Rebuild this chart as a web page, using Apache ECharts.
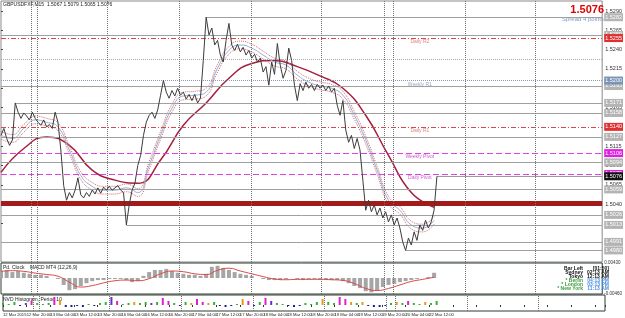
<!DOCTYPE html>
<html>
<head>
<meta charset="utf-8">
<script src="https://cdn.jsdelivr.net/npm/echarts@6/dist/echarts.min.js"></script>
<style>
  html, body { margin: 0; padding: 0; background: #fff; }
  #main { width: 625px; height: 318px; }
</style>
</head>
<body>
<div id="main"></div>
<script>
// price line, one value per hour
const close = [
  1.5129, 1.5138, 1.5125, 1.5116, 1.5123, 1.5171, 1.5159, 1.5151, 1.5158, 1.5154,
  1.5149, 1.5159, 1.5151, 1.5146, 1.5142, 1.5149, 1.5140, 1.5143, 1.5138, 1.5159,
  1.5146, 1.5110, 1.5064, 1.5045, 1.5055, 1.5048, 1.5058, 1.5074, 1.5052, 1.5048,
  1.5055, 1.5050, 1.5058, 1.5053, 1.5061, 1.5054, 1.5062, 1.5058, 1.5063, 1.5058,
  1.5061, 1.5064, 1.5058, 1.5055, 1.5013, 1.5039, 1.5058, 1.5067, 1.5090, 1.5103,
  1.5129, 1.5146, 1.5155, 1.5159, 1.5151, 1.5162, 1.5181, 1.5200, 1.5185, 1.5177,
  1.5187, 1.5180, 1.5190, 1.5181, 1.5185, 1.5176, 1.5182, 1.5174, 1.5182, 1.5171,
  1.5177, 1.5226, 1.5282, 1.5259, 1.5268, 1.5246, 1.5252, 1.5233, 1.5224, 1.5252,
  1.5274, 1.5246, 1.5239, 1.5247, 1.5237, 1.5243, 1.5233, 1.5239, 1.5229, 1.5234,
  1.5224, 1.5229, 1.5211, 1.5218, 1.5194, 1.5224, 1.5208, 1.5248, 1.5220, 1.5203,
  1.5213, 1.5242, 1.5226, 1.5194, 1.5174, 1.5196, 1.5187, 1.5198, 1.5190, 1.5195,
  1.5187, 1.5195, 1.5190, 1.5194, 1.5187, 1.5193, 1.5185, 1.5190, 1.5168, 1.5155,
  1.5174, 1.5136, 1.5120, 1.5129, 1.5112, 1.5125, 1.5110, 1.5071, 1.5032, 1.5045,
  1.5030, 1.5039, 1.5026, 1.5035, 1.5022, 1.5030, 1.5017, 1.5026, 1.5013, 1.5022,
  1.5009, 1.4991, 1.4980, 1.4996, 1.4987, 1.5004, 1.4993, 1.5013, 1.5006, 1.5019,
  1.5009, 1.5017, 1.5032, 1.5076
];

// moving averages (every 4th hour) and slow average (every 8th hour)
const MA_STEP = 4;
const maMid = [
  1.5129, 1.5125, 1.5138, 1.5149, 1.5146, 1.5140, 1.5110, 1.5077, 1.5063, 1.5058,
  1.5058, 1.5061, 1.5055, 1.5090, 1.5129, 1.5164, 1.5180, 1.5181, 1.5185, 1.5216,
  1.5239, 1.5246, 1.5242, 1.5233, 1.5224, 1.5220, 1.5207, 1.5198, 1.5193, 1.5190,
  1.5181, 1.5155, 1.5123, 1.5084, 1.5045, 1.5032, 1.5013, 1.5009, 1.5019
];
const maUpper = [
  1.5134, 1.5130, 1.5143, 1.5154, 1.5151, 1.5145, 1.5115, 1.5082, 1.5068, 1.5063,
  1.5063, 1.5066, 1.5060, 1.5095, 1.5134, 1.5169, 1.5185, 1.5186, 1.5190, 1.5221,
  1.5244, 1.5251, 1.5247, 1.5238, 1.5229, 1.5225, 1.5212, 1.5203, 1.5198, 1.5195,
  1.5186, 1.5160, 1.5128, 1.5089, 1.5050, 1.5037, 1.5018, 1.5014, 1.5024
];
const maLower = [
  1.5124, 1.5120, 1.5133, 1.5144, 1.5141, 1.5135, 1.5105, 1.5072, 1.5058, 1.5053,
  1.5053, 1.5056, 1.5050, 1.5085, 1.5124, 1.5159, 1.5175, 1.5176, 1.5180, 1.5211,
  1.5234, 1.5241, 1.5237, 1.5228, 1.5219, 1.5215, 1.5202, 1.5193, 1.5188, 1.5185,
  1.5176, 1.5150, 1.5118, 1.5079, 1.5040, 1.5027, 1.5008, 1.5004, 1.5014
];
const SLOW_STEP = 8;
const maSlow = [
  1.5081, 1.5112, 1.5127, 1.5116, 1.5084, 1.5071, 1.5067, 1.5097, 1.5142, 1.5171,
  1.5203, 1.5222, 1.5226, 1.5218, 1.5206, 1.5190, 1.5155, 1.5103, 1.5055, 1.5036
];

// levels
const greyLevels = [1.5259, 1.5193, 1.5158, 1.5127, 1.5094, 1.5059, 1.5026, 1.4991];
const dottedLevels = [1.5228];
const swingIdx = [5, 72, 44, 142];
const pivotNames = ['Daily R2', 'Weekly R1', 'Daily R1', 'Weekly Pivot', 'Daily Pivot'];
const pivotLevels = [1.5255, 1.5200, 1.5140, 1.5106, 1.5079];
const zoneLevel = 1.5041;
const sepIdx = [10.5, 12.6, 37.4, 62.5, 87.7, 112.5, 134.5, 137.6, 162.8, 187.6];

// MACD panel (every 2nd hour) and signal (every 4th hour)
const MACD_STEP = 2;
const macd = [
  0.0020, 0.0023, 0.0017, 0.0020, 0.0015, 0.0012, 0.0009, 0.0009, 0.0006, 0.0000,
  -0.0003, -0.0020, -0.0035, -0.0032, -0.0023, -0.0015, -0.0009, -0.0006, -0.0006, -0.0003,
  -0.0003, -0.0003, -0.0006, -0.0012, -0.0009, 0.0006, 0.0017, 0.0023, 0.0023, 0.0026,
  0.0020, 0.0015, 0.0012, 0.0009, 0.0009, 0.0006, 0.0012, 0.0032, 0.0035, 0.0029,
  0.0023, 0.0017, 0.0012, 0.0009, 0.0006, 0.0000, -0.0003, -0.0006, -0.0006, -0.0006,
  -0.0003, 0.0000, -0.0003, -0.0006, -0.0003, -0.0003, -0.0003, -0.0006, -0.0006, -0.0006,
  -0.0009, -0.0015, -0.0023, -0.0029, -0.0038, -0.0041, -0.0035, -0.0026, -0.0020, -0.0017,
  -0.0012, -0.0009, -0.0006, -0.0003, 0.0000, 0.0003, 0.0015
];
const SIGNAL_STEP = 4;
const signal = [
  0.0019, 0.0021, 0.0019, 0.0014, 0.0010, 0.0005, -0.0012, -0.0026, -0.0022, -0.0014,
  -0.0008, -0.0006, -0.0008, -0.0002, 0.0012, 0.0020, 0.0018, 0.0012, 0.0010, 0.0022,
  0.0028, 0.0020, 0.0012, 0.0004, -0.0003, -0.0005, -0.0004, -0.0004, -0.0004, -0.0005,
  -0.0007, -0.0016, -0.0030, -0.0036, -0.0030, -0.0020, -0.0010, -0.0004, 0.0002
];

// histogram panel (every 2nd hour), kind picks the colour
const HIST_STEP = 2;
const histVal = [
  2, 1, 3, -1, 2, 4, 2, 1, 2, 8, 5, -2, -2, -1, -2, 1, -1, 2, 3, 8,
  4, 1, 2, 3, 2, 3, 2, 3, 7, 4, 2, -1, 3, 2, 6, 3, 2, 3, -1, -2,
  -1, 1, 6, 4, -1, 3, 7, 4, 2, 1, -1, -2, -1, 2, 1, 3, 6, 3, 2, 8,
  6, 3, 2, 3, -1, -2, -2, -1, 2, 3, 2, 4, 2, 1, 3, 2, 4
];
const histKind = [
  0, 0, 0, 4, 2, 1, 0, 0, 0, 1, 3, 4, 4, 4, 4, 0, 4, 0, 0, 2,
  1, 0, 0, 3, 0, 0, 2, 0, 1, 1, 0, 4, 0, 3, 1, 1, 3, 0, 4, 4,
  4, 0, 3, 1, 4, 0, 1, 2, 0, 0, 4, 4, 4, 0, 0, 0, 3, 0, 0, 1,
  1, 3, 0, 3, 4, 4, 4, 4, 0, 3, 0, 1, 0, 0, 3, 0, 0
];

const timeLabels = [
  '12 Mar 2015', '12 Mar 20:00', '13 Mar 04:00', '13 Mar 12:00', '13 Mar 20:00',
  '16 Mar 04:00', '16 Mar 12:00', '16 Mar 20:00', '17 Mar 04:00', '17 Mar 12:00',
  '17 Mar 20:00', '18 Mar 04:00', '18 Mar 12:00', '18 Mar 20:00', '19 Mar 04:00',
  '19 Mar 12:00', '19 Mar 20:00', '20 Mar 04:00', '22 Mar 12:00'
];
const LABEL_STEP = 8.3;
const X_MAX = 211;

const clockNames = ['Bar Left', 'Sydney', 'Tokyo', '* Berlin', '* London', '* New York'];
const clockTimes = ['[01:50]', '02:13 AM', '12:13 AM', '04:13 PM', '03:13 PM', '11:13 AM'];

const FONT = 'Liberation Sans, Arial, sans-serif';
const histColors = ['#33b233', '#e020c8', '#6a2fd0', '#e89a1a', '#1c1c9a'];
const pivotStyle = [
  { color: '#d84848', type: [5, 2, 1, 2], box: '#e03030', text: '#d86060' },
  { color: '#8a9ab4', type: 'dotted', box: '#7b93b5', text: '#8090a8' },
  { color: '#d84848', type: [5, 2, 1, 2], box: '#e03030', text: '#d86060' },
  { color: '#e040e0', type: [6, 3], box: '#e020e0', text: '#c030c0' },
  { color: '#e040e0', type: [6, 3], box: '#e020e0', text: '#c030c0' }
];

// right-side price box for a level line
const boxLabel = (v, bg) => ({
  show: true, position: 'end', distance: 2,
  formatter: v.toFixed(4),
  backgroundColor: bg, color: '#fff',
  fontSize: 5.5, fontFamily: FONT, padding: [1, 1]
});

const levelLines = [];
greyLevels.forEach(v => levelLines.push({
  yAxis: v, lineStyle: { color: '#a0a0a0', type: 'solid', width: 1 }, label: boxLabel(v, '#b4b4b4')
}));
dottedLevels.forEach(v => levelLines.push({
  yAxis: v, lineStyle: { color: '#aaaaaa', type: 'dotted', width: 1 }, label: { show: false }
}));
pivotLevels.forEach((v, i) => levelLines.push({
  yAxis: v, lineStyle: { color: pivotStyle[i].color, type: pivotStyle[i].type, width: 1 },
  label: boxLabel(v, pivotStyle[i].box)
}));
levelLines.push({
  yAxis: zoneLevel, lineStyle: { color: '#a31a1a', type: 'solid', width: 5 }, label: { show: false }
});
swingIdx.forEach(i => levelLines.push([
  { coord: [i, close[i]], lineStyle: { color: '#a0a0a0', type: 'solid', width: 1 }, label: boxLabel(close[i], '#b4b4b4') },
  { coord: [X_MAX, close[i]] }
]));
const last = close.length - 1;
levelLines.push([
  { coord: [last, close[last]], lineStyle: { color: '#9a9a9a', type: 'solid', width: 1 }, label: boxLabel(close[last], '#111') },
  { coord: [X_MAX, close[last]] }
]);

const sepLines = sepIdx.map(x => ({
  xAxis: x, lineStyle: { color: '#707070', type: 'dotted', width: 1 }, label: { show: false }
}));

const plainX = gi => ({
  type: 'value', gridIndex: gi, min: 0, max: X_MAX,
  axisLine: { show: false }, axisTick: { show: false },
  axisLabel: { show: false }, splitLine: { show: false }
});

const chartDom = document.getElementById('main');
const myChart = echarts.init(chartDom);

const option = {
  animation: false,
  backgroundColor: '#ffffff',
  textStyle: { fontFamily: FONT },
  grid: [
    { left: 1, right: 20, top: 1, height: 261, show: true, borderColor: '#8a8a8a', borderWidth: 1, backgroundColor: '#fff' },
    { left: 1, right: 20, top: 263, height: 31, show: true, borderColor: '#2e3a2e', borderWidth: 1 },
    { left: 1, right: 20, top: 295, height: 16, show: true, borderColor: '#2e3a2e', borderWidth: 1 }
  ],
  xAxis: [
    plainX(0),
    plainX(1),
    {
      type: 'value', gridIndex: 2, min: 0, max: X_MAX, interval: LABEL_STEP,
      axisLine: { show: false },
      axisTick: { show: true, length: 2, lineStyle: { color: '#333' } },
      splitLine: { show: false },
      axisLabel: {
        fontSize: 4.2, color: '#222', margin: 2, align: 'left',
        showMinLabel: true, showMaxLabel: true, hideOverlap: false,
        formatter: v => {
          const k = Math.round(v / LABEL_STEP);
          return Math.abs(v - k * LABEL_STEP) < 0.01 ? (timeLabels[k] || '') : '';
        }
      }
    }
  ],
  yAxis: [
    {
      type: 'value', gridIndex: 0, position: 'right', min: 1.4965, max: 1.5303, interval: 0.0025,
      axisLine: { show: false }, splitLine: { show: false },
      axisTick: { show: true, length: 2, lineStyle: { color: '#444' } },
      axisLabel: { fontSize: 5.5, color: '#333', margin: 3, showMinLabel: false, showMaxLabel: false,
        formatter: v => v.toFixed(4) }
    },
    {
      type: 'value', gridIndex: 1, position: 'right', min: -0.0046, max: 0.0043, interval: 0.0089,
      axisLine: { show: false }, splitLine: { show: false }, axisTick: { show: false },
      axisLabel: { fontSize: 4.5, color: '#333', margin: 2, formatter: v => v.toFixed(5) }
    },
    {
      type: 'value', gridIndex: 2, position: 'right', min: -6, max: 10, interval: 16,
      axisLine: { show: false }, splitLine: { show: false }, axisTick: { show: false },
      axisLabel: { show: false }
    }
  ],
  series: [
    {
      type: 'line', xAxisIndex: 0, yAxisIndex: 0, z: 5,
      data: close.map((v, i) => [i, v]),
      symbol: 'none', lineStyle: { color: '#3c3c3c', width: 1 },
      markLine: { silent: true, symbol: ['none', 'none'], precision: 4, data: levelLines.concat(sepLines) }
    },
    {
      type: 'line', xAxisIndex: 0, yAxisIndex: 0, z: 4,
      data: maSlow.map((v, k) => [k * SLOW_STEP, v]),
      symbol: 'none', smooth: true, lineStyle: { color: '#a61e3e', width: 1.5 }
    },
    {
      type: 'line', xAxisIndex: 0, yAxisIndex: 0, z: 4,
      data: maUpper.map((v, k) => [k * MA_STEP, v]),
      symbol: 'none', smooth: true, lineStyle: { color: '#d86a6a', width: 1, type: 'dotted' }
    },
    {
      type: 'line', xAxisIndex: 0, yAxisIndex: 0, z: 4,
      data: maLower.map((v, k) => [k * MA_STEP, v]),
      symbol: 'none', smooth: true, lineStyle: { color: '#d86a6a', width: 1, type: 'dotted' }
    },
    {
      type: 'line', xAxisIndex: 0, yAxisIndex: 0, z: 4,
      data: maMid.map((v, k) => [k * MA_STEP, v]),
      symbol: 'none', smooth: true, lineStyle: { color: '#8fb0d8', width: 1 }
    },
    {
      type: 'scatter', xAxisIndex: 0, yAxisIndex: 0, z: 6,
      symbolSize: 1, itemStyle: { color: 'rgba(0,0,0,0)' },
      data: pivotLevels.map((v, i) => ({
        value: [147, v], name: pivotNames[i],
        label: { color: pivotStyle[i].text }
      })),
      label: { show: true, position: 'bottom', distance: 1, fontSize: 5, formatter: p => p.name }
    },
    {
      type: 'bar', xAxisIndex: 1, yAxisIndex: 1, barWidth: 4,
      data: macd.map((v, k) => [k * MACD_STEP, v]),
      itemStyle: { color: '#a6a6a6' },
      markLine: { silent: true, symbol: ['none', 'none'], data: sepLines }
    },
    {
      type: 'line', xAxisIndex: 1, yAxisIndex: 1,
      data: signal.map((v, k) => [k * SIGNAL_STEP, v]),
      symbol: 'none', smooth: true, lineStyle: { color: '#d84a4a', width: 1 }
    },
    {
      type: 'bar', xAxisIndex: 2, yAxisIndex: 2, barWidth: 2,
      data: histVal.map((v, k) => ({
        value: [k * HIST_STEP, v], itemStyle: { color: histColors[histKind[k]] }
      })),
      markLine: { silent: true, symbol: ['none', 'none'], data: sepLines }
    }
  ],
  graphic: [
    { type: 'text', left: 3, top: 2, style: { text: 'GBPUSDFXF,M15  1.5067 1.5079 1.5065 1.5076', fill: '#222', font: '5px ' + FONT } },
    { type: 'text', right: 21, top: 4, style: { text: '1.5076', fill: '#e00000', font: 'bold 11px ' + FONT } },
    { type: 'text', right: 21, top: 16, style: { text: 'Spread 4 points', fill: '#7a9cc8', font: '6px ' + FONT } },
    { type: 'text', left: 3, top: 265, style: { text: 'Pd. Clock    MACD MT4 (12,26,9)', fill: '#222', font: '5px ' + FONT } },
    { type: 'text', left: 3, top: 297, style: { text: 'NVD Histogram, Period 10', fill: '#222', font: '5px ' + FONT } }
  ].concat(clockNames.map((t, i) => ({
    type: 'text', right: 42, top: 266 + i * 4,
    style: { text: t, fill: i < 3 ? '#111' : '#3c9c3c', font: 'bold 5px ' + FONT, align: 'right' }
  }))).concat(clockTimes.map((t, i) => ({
    type: 'text', right: 16, top: 266 + i * 4,
    style: { text: t, fill: i < 3 ? '#111' : '#4a90e0', font: 'bold 5px ' + FONT, align: 'right' }
  })))
};

option && myChart.setOption(option);
</script>
</body>
</html>
